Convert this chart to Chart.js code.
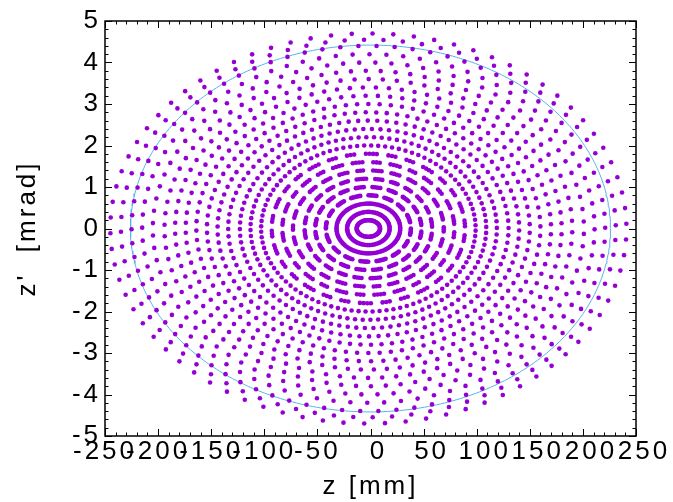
<!DOCTYPE html>
<html>
<head>
<meta charset="utf-8">
<script src="https://cdn.jsdelivr.net/npm/chart.js@4/dist/chart.umd.min.js"></script>
<style>
  html, body { margin: 0; padding: 0; background: #fff; }
  #wrap { width: 673px; height: 502px; }
</style>
</head>
<body>
<div id="wrap"><canvas id="c" width="673" height="502"></canvas></div>
<script>
// Invariant tori of the longitudinal phase space: half-widths of each ring
const ringZ  = [11, 20, 30, 40, 50, 60, 71, 81, 91, 101, 111, 121,
                132, 142, 152, 162, 172, 182, 192, 203, 213, 223, 233, 243];   // mm
const ringZp = [0.2, 0.4, 0.6, 0.8, 1.0, 1.2, 1.4, 1.6, 1.8, 2.0, 2.2, 2.4,
                2.6, 2.8, 3.0, 3.2, 3.4, 3.6, 3.8, 4.0, 4.2, 4.4, 4.55, 4.7];  // mrad
// turns recorded on each ring, and how many clusters they bunch into (0 = even)
const ringDots   = [60, 80, 100, 100, 100, 100, 100, 100, 100, 96, 96, 94,
                    92, 90, 90, 88, 88, 86, 86, 84, 84, 82, 80, 78];
const ringGroups = [0, 0, 0, 16, 20, 24, 26, 28, 30, 0, 0, 0,
                    0, 0, 0, 0, 0, 0, 0, 0, 0, 0, 0, 0];
const ringPhase  = [0, 7, 3, 11, 5, 2, 9, 4, 13, 6, 1, 8,
                    12, 3, 10, 5, 14, 2, 7, 11, 4, 9, 1, 6];   // degrees
const orbitCenter = [-2, 0];        // [mm, mrad]

// acceptance ellipse
const acceptanceZ = 226;            // mm
const acceptanceZp = 4.42;          // mrad

const zTicks  = [-250, -200, -150, -100, -50, 0, 50, 100, 150, 200, 250];
const zpTicks = [-5, -4, -3, -2, -1, 0, 1, 2, 3, 4, 5];
const zMinorStep = 10;
const zpMinorStep = 0.2;

const dots = [];
ringZ.forEach((a, i) => {
  const b = ringZp[i], n = ringDots[i], g = ringGroups[i];
  const ph = ringPhase[i] * Math.PI / 180;
  for (let j = 0; j < n; j++) {
    let t;
    if (g > 0) {
      const u = j * g / n, grp = Math.floor(u), frac = u - grp;
      t = (grp + 0.6 * frac) * 2 * Math.PI / g;
    } else {
      t = j * 2 * Math.PI / n;
    }
    t += ph;
    dots.push({ x: orbitCenter[0] + a * Math.cos(t), y: orbitCenter[1] + b * Math.sin(t) });
  }
});

const ellipse = [];
for (let k = 0; k <= 360; k++) {
  const t = k * Math.PI / 180;
  ellipse.push({ x: acceptanceZ * Math.cos(t), y: acceptanceZp * Math.sin(t) });
}

const FONT = 'Liberation Sans, Arial, Helvetica, sans-serif';
// positive z labels keep a sign-width blank in front, like a "% g" format
const fmtZ = v => (v < 0 ? '-' + Math.abs(v) : '\u2002' + v);
const fmtZp = v => (v < 0 ? '-' + Math.abs(v) : String(v));

// wide-set lettering for all axis text, and a frame with inward
// major/minor ticks on all four sides
const framePlugin = {
  id: 'frame',
  beforeDraw(chart) { chart.ctx.letterSpacing = '3px'; },
  afterDraw(chart) {
    const { ctx, chartArea: ca, scales: { x, y } } = chart;
    ctx.letterSpacing = '0px';
    ctx.save();
    ctx.strokeStyle = '#000';
    ctx.lineWidth = 1;
    ctx.beginPath();
    const nz = Math.round((x.max - x.min) / zMinorStep);
    for (let i = 0; i <= nz; i++) {
      const v = x.min + i * zMinorStep;
      const px = Math.round(x.getPixelForValue(v)) + 0.5;
      const len = (Math.abs(v % 50) < 1e-6) ? 7 : 3.5;
      ctx.moveTo(px, ca.bottom); ctx.lineTo(px, ca.bottom - len);
      ctx.moveTo(px, ca.top); ctx.lineTo(px, ca.top + len);
    }
    const nzp = Math.round((y.max - y.min) / zpMinorStep);
    for (let i = 0; i <= nzp; i++) {
      const v = y.min + i * zpMinorStep;
      const py = Math.round(y.getPixelForValue(v)) + 0.5;
      const len = (Math.abs(v - Math.round(v)) < 1e-6) ? 7 : 3.5;
      ctx.moveTo(ca.left, py); ctx.lineTo(ca.left + len, py);
      ctx.moveTo(ca.right, py); ctx.lineTo(ca.right - len, py);
    }
    ctx.stroke();
    ctx.lineWidth = 1.5;
    ctx.strokeRect(ca.left, ca.top, ca.right - ca.left, ca.bottom - ca.top);
    ctx.restore();
  }
};

new Chart(document.getElementById('c'), {
  type: 'scatter',
  data: {
    datasets: [
      {
        label: 'tracking',
        data: dots,
        pointRadius: 2.3,
        pointBorderWidth: 0,
        backgroundColor: '#9400d3',
        borderColor: '#9400d3',
        showLine: false
      },
      {
        label: 'acceptance',
        data: ellipse,
        showLine: true,
        pointRadius: 0,
        borderColor: '#56b4e9',
        borderWidth: 1,
        fill: false,
        tension: 0
      }
    ]
  },
  options: {
    responsive: false,
    animation: false,
    devicePixelRatio: 1,
    layout: { padding: { left: 0, right: 37, top: 21, bottom: 0 } },
    plugins: { legend: { display: false }, tooltip: { enabled: false } },
    scales: {
      x: {
        type: 'linear',
        min: -250, max: 250,
        afterBuildTicks: s => { s.ticks = zTicks.map(v => ({ value: v })); },
        afterFit: s => { s.height = 66; },
        grid: { display: false, drawTicks: false },
        border: { display: false },
        ticks: {
          autoSkip: false, maxRotation: 0, minRotation: 0,
          color: '#000', padding: 0,
          font: { family: FONT, size: 26 },
          callback: v => fmtZ(v)
        },
        title: {
          display: true, text: 'z [mm]', color: '#000',
          font: { family: FONT, size: 26 }, padding: { top: 0, bottom: 0 }
        }
      },
      y: {
        type: 'linear',
        min: -5, max: 5,
        afterBuildTicks: s => { s.ticks = zpTicks.map(v => ({ value: v })); },
        afterFit: s => { s.width = 105; },
        grid: { display: false, drawTicks: false },
        border: { display: false },
        ticks: {
          autoSkip: false, color: '#000', padding: 4,
          font: { family: FONT, size: 26 },
          callback: v => fmtZp(v)
        },
        title: {
          display: true, text: "z'  [mrad]", color: '#000',
          font: { family: FONT, size: 26 }, padding: { top: 12, bottom: 0 }
        }
      }
    }
  },
  plugins: [framePlugin]
});
</script>
</body>
</html>
